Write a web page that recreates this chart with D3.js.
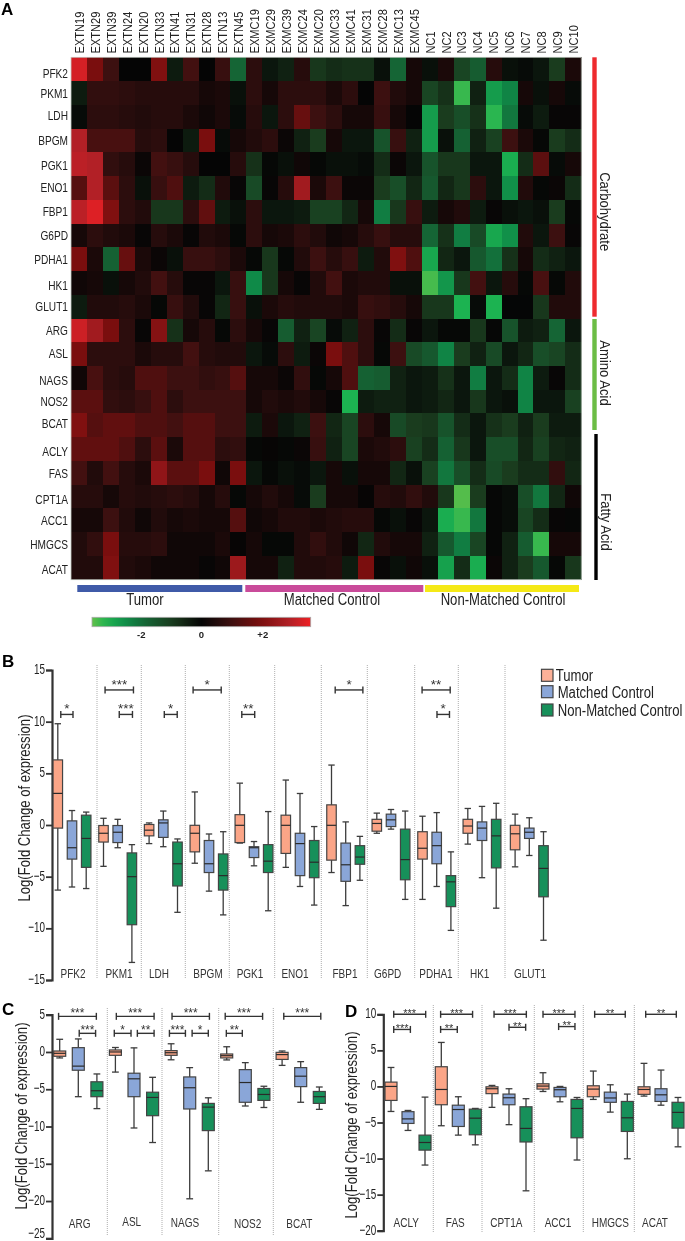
<!DOCTYPE html>
<html><head><meta charset="utf-8">
<script src="https://cdn.jsdelivr.net/npm/d3@7/dist/d3.min.js"></script>
<style>html,body{margin:0;padding:0;background:#fff}svg{display:block;filter:blur(.35px)}
text{font-family:"Liberation Sans",Arial,sans-serif;fill:#222}</style>
</head><body><div id="c"></div>
<script>
// ---------- DATA ----------
const samples=["EXTN19","EXTN29","EXTN39","EXTN24","EXTN20","EXTN33","EXTN41","EXTN31","EXTN28","EXTN13","EXTN45",
"EXMC19","EXMC29","EXMC39","EXMC24","EXMC20","EXMC33","EXMC41","EXMC31","EXMC28","EXMC13","EXMC45",
"NC1","NC2","NC3","NC4","NC5","NC6","NC7","NC8","NC9","NC10"];
const heatGenes=["PFK2","PKM1","LDH","BPGM","PGK1","ENO1","FBP1","G6PD","PDHA1","HK1","GLUT1","ARG","ASL","NAGS","NOS2","BCAT","ACLY","FAS","CPT1A","ACC1","HMGCS","ACAT"];
const heatValues=[
[3.4,2,1,0,0,2.1,-.4,1.1,0,.9,-1.9, .7,-.3,-.5,.6,-.9,-.7,-.8,-.8,-.2,-1.9,.3, -.2,.4,-1.2,-1.7,.6,-.2,-.1,-.3,-1,.4],
[-.4,.8,.8,.7,.6,.6,.6,.6,.3,.4,-.2, .7,.3,.7,.7,.7,.4,.7,0,1,.5,.3, -1.2,-.8,-3.4,-.5,-2.8,-2.4,.3,-.2,.3,-.1],
[-.1,.7,.7,.6,.5,.6,.6,.4,.2,.4,-.1, .6,-.3,.7,1.7,1,.7,.3,.3,.9,.3,0, -2.8,-1,-1.4,-.8,-3.3,-2.2,-.1,-.4,.05,.05],
[3,1.2,1.2,1.2,.6,.7,0,-.4,2,-.1,.3, .5,.7,.1,-.5,-1,.3,-.3,-.3,-1.5,.9,-.5, -2.8,-.2,-1.8,-.5,-1.1,1,.4,-.05,-1,-.7],
[3.1,3,.8,.6,.1,1.1,.9,.6,0,0,.6, -.8,-.05,-.2,.2,-.05,-.2,-.2,-.1,-.7,.1,-.3, -1.5,-.9,-.9,-.3,-.3,-3.1,-.7,1.5,-.1,.3],
[1.4,3,1.5,.7,-.2,.9,1.3,-.4,-.7,.5,.05, -1.3,.05,.6,2.7,.4,1,.1,.1,-1,-1.4,-.6, -1.6,-.6,-.9,.7,-.3,-2.6,.5,-.05,.1,-.7],
[3.1,3.5,2.1,.7,.5,-.9,-.9,.7,1.6,-.4,-.2, .7,-.3,-.3,-.4,-1.1,-1.1,-.6,.3,-2.3,-.9,.9, -.4,.3,.5,-.4,.05,-.2,-.3,-.2,-1,-.05],
[.3,.7,.5,.4,.05,.6,.4,.05,.5,.4,-.05, .7,.3,.4,.7,.5,.2,.3,.6,.9,.6,.6, -1.9,-.8,-2.3,-1.3,-3,-2.6,.5,-.3,1,.05],
[2,.4,-1.8,1.7,.4,.1,-.2,.9,.9,.7,.4, -.05,-.9,-.05,.5,1,.6,.9,-.4,.5,2.1,1.3, -3,-.6,-.3,-1.6,-2.1,-.8,.3,-.7,-.5,-.3],
[.2,.3,-.2,.3,.5,1.1,.6,.05,.05,-.3,.9, -2.5,-.9,.3,.05,.5,1.1,.4,.5,.5,-.2,-.2, -3.5,-2.7,-.9,1.1,-.3,.6,-.05,1.2,-.05,.5],
[-.4,.5,.5,.6,.4,-.05,.9,.5,.05,-.6,.9, -.2,.4,.6,.5,.5,.5,.4,.9,.8,.6,.3, -.9,-.9,-3.2,-.1,-3.2,-.02,-.02,-.9,.5,.5],
[3.3,2.7,2,.7,.05,2.2,-.8,.3,.6,-.05,.7, .3,.05,-1.7,-.5,-1.2,-.1,-.5,.7,.05,-.7,.05, -.3,-.05,-.05,-.9,-.03,-1.5,-.4,-.5,-1.9,-.3],
[2,.7,.7,.7,.4,.6,.6,1.1,.6,.5,.5, -.3,-.1,.7,-.4,.1,2,1.3,.7,-.05,1,-1.3, -1.6,-2.4,-1,-.5,-1.3,-.3,-.6,-1.4,-1.2,-.7],
[.2,1.2,.7,.6,1.3,1.3,1,1,.8,.9,1.4, .3,.3,.1,.8,-.05,.3,1.3,-1.8,-1.7,-.5,-.3, -.4,-.8,-.3,-2.3,-.3,-.7,-2.4,-.4,.05,-.7],
[1.5,1.5,.8,.7,.9,1.3,.7,1,1,1,1, .3,.5,.4,.5,.3,.05,-3.2,-.4,-.5,-.5,-.3, -.4,-.6,-.3,-.9,-.3,-.2,-2.4,-.3,-.3,-1.1],
[2.1,1.4,1.6,1.6,1.3,1.3,1.1,1.4,1.4,1,1, -.4,.4,-.3,-.5,1,-.6,-1.2,.7,.3,-1.3,-1, -.9,-1.5,-.7,-.3,-.8,-1,-.5,-1,-.4,-.4],
[1.6,1.6,1.6,1.3,.7,1.5,.4,1.4,1.4,.7,.8, -.05,.03,-.05,.1,.9,-.5,-1.2,.4,.5,.7,-1.1, -.7,-1.8,-.9,-.3,-1.4,-1.4,-.6,-1.1,-.6,-.5],
[1.1,.5,1.1,.6,.4,2.4,1.5,1.5,2,.2,2, -.3,-.05,-.2,-.1,-.3,.3,-.2,.3,.3,-.6,-.2, -1.1,-2.2,-1.4,-.7,-1.3,-1,-.7,-.7,.8,-.6],
[.6,.6,.3,.6,.5,.6,.7,.6,.3,.6,-.05, .3,.5,.3,-.1,-1,.3,.3,.03,.6,.5,.8, .5,-.9,-3.6,-1,-.03,-.15,-1.4,-2.2,-.6,.2],
[.3,.3,1,.5,.2,.5,.3,.4,.3,.3,1.4, .2,.3,.5,.5,.4,.5,.6,.6,-.05,-.2,.05, -.3,-3.1,-3.4,-2.2,-.03,-.15,-1.2,-.7,.05,-.03],
[.5,.8,2,.6,.6,.7,.2,.2,.2,.4,.03, .3,-.05,-.05,.5,.8,.5,.2,-.6,.5,.3,.3, -.5,-1.6,-2.3,-1.2,-.03,-.5,-1.7,-3.4,.3,.3],
[.5,.5,2.1,.5,.4,.2,.2,.2,.05,.2,2.6, .3,.3,-.5,.5,.5,.6,-.4,2,.05,-.2,.2, -.2,-2.9,-.7,-3.1,.1,-.5,-1,-1.6,-.05,-.9]
];
const sampleGroups=["Tumor","Matched Control","Non-Matched Control"];
const pathways=["Carbohydrate","Amino Acid","Fatty Acid"];
const colorTickLabels=["-2","0","+2"], colorTicks=[-2,0,2];
const seriesNames=["Tumor","Matched Control","Non-Matched Control"];

// each box: [low whisker, q1, median, q3, high whisker]
const genesB=["PFK2","PKM1","LDH","BPGM","PGK1","ENO1","FBP1","G6PD","PDHA1","HK1","GLUT1"];
const tumorB=[[-6.3,-.3,3.06,6.3,9.8],[-4,-1.65,-.8,-.05,.65],[-1.8,-1.05,-.5,.05,.2],[-3.7,-2.6,-.8,-.03,3.2],[-1.75,-1.7,-.03,1,4.05],[-4.1,-2.75,-.03,.95,4.35],[-4.6,-3.4,-.03,1.95,5.8],[-.8,-.6,.15,.55,1.15],[-7.2,-3.3,-2.25,-.65,.85],[-1.85,-.8,-.1,.55,1.6],[-4.05,-2.4,-.85,-.03,1.05]];
const matchedB=[[-6,-3.3,-2.2,.4,1.4],[-2.2,-1.7,-.7,-.05,.55],[-2.1,-1.2,.2,.5,1.35],[-6.4,-4.6,-3.75,-1.5,-.87],[-3.95,-3.15,-2.2,-2.1,-1.6],[-5.95,-4.9,-1.8,-.8,3.05],[-7.8,-5.45,-3.85,-1.75,.3],[-.4,-.15,.5,1.05,1.5],[-5.95,-3.75,-2,-.7,1.2],[-5.1,-1.5,-.3,.3,1.8],[-2.95,-1.3,-.7,-.3,.7]];
const nonMatchedB=[[-6.15,-4.1,-1.3,.95,1.25],[-13.3,-9.65,-5,-2.7,-1.9],[-8.45,-5.9,-3.75,-1.65,-1.35],[-8.7,-6.3,-4.9,-2.8,-.65],[-8.3,-4.6,-3.5,-1.9,1.3],[-7.75,-5.1,-3.6,-1.5,-.15],[-5.35,-3.8,-3.1,-2,-1.1],[-7.2,-5.3,-3.35,-.4,1.35],[-10.2,-7.9,-5.5,-4.9,-2.6],[-8.05,-4.15,-1.05,.55,2.1],[-11.15,-6.95,-4.2,-2,-.65]];
const yTicksB=[15,10,5,0,-5,-10,-15];
// brackets: gene index, from, to (in box slots, -1 tumor … +1 non-matched), level, stars
const bracketsB=[[0,-.79,.07,10.7,"*"],[1,-.89,1.11,13.07,"***"],[1,.11,1.04,10.7,"***"],[2,.07,.98,10.7,"*"],[3,-1.12,.86,13.07,"*"],[4,-.86,.05,10.7,"**"],[6,-.74,1.21,13.07,"*"],[8,-1.03,.95,13.07,"**"],[8,.02,.9,10.7,"*"]];

const genesC=["ARG","ASL","NAGS","NOS2","BCAT"];
const tumorC=[[-.8,-.58,-.18,.13,1.7],[-2.7,-.45,0,.27,.6],[-1.05,-.45,-.1,.18,1.1],[-1.07,-.8,-.5,-.27,.7],[-1.8,-1,-.35,-.05,.13]];
const matchedC=[[-6,-2.45,-1.9,.58,1.75],[-10.2,-6,-3.6,-2.85,.55],[-19.7,-7.65,-4.8,-3.35,-2.1],[-7.25,-6.75,-4.1,-2.37,-1.43],[-6.75,-4.65,-3.25,-2.1,-1.3]];
const nonMatchedC=[[-7.6,-6,-5.2,-4,-2.95],[-12.15,-8.55,-6.1,-5.4,-3.4],[-15.95,-10.55,-7.4,-6.9,-6.15],[-7.45,-6.5,-5.7,-4.9,-4.6],[-7.7,-6.9,-6,-5.3,-4.7]];
const yTicksC=[5,0,-5,-10,-15,-20,-25];
const bracketsC=[[0,-1.06,.97,4.78,"***"],[0,.05,.93,2.5,"***"],[1,-.95,1.08,4.78,"***"],[1,-1.06,-.16,2.5,"*"],[1,.18,1.08,2.5,"**"],[2,-.95,1.06,4.78,"***"],[2,-1.09,-.23,2.5,"***"],[2,.13,1,2.5,"*"],[3,-1.08,.93,4.78,"***"],[3,-1.02,-.16,2.5,"**"],[4,-.91,1.08,4.78,"***"]];

const genesD=["ACLY","FAS","CPT1A","ACC1","HMGCS","ACAT"];
const tumorD=[[-3.47,-1.94,0,.6,2.63],[-5.45,-2.54,-.42,2.73,6.1],[-2.9,-1,-.32,-.05,.14],[-.7,-.37,.05,.37,1.9],[-1.8,-1.43,-.37,.09,2.13],[-1.34,-1.1,-.42,-.05,3.2]];
const matchedD=[[-6.1,-5.13,-4.5,-3.5,-3.33],[-6.75,-5.55,-3.2,-2.6,-1.43],[-5.3,-2.54,-1.57,-1.06,-.32],[-2.13,-1.43,-.46,-.14,0],[-3.56,-2.2,-1.6,-.79,.23],[-2.6,-2.08,-1.16,-.32,2.27]];
const nonMatchedD=[[-10.9,-8.83,-7.77,-6.75,-1.48],[-8.1,-6.7,-4.4,-3.15,-3.05],[-14.47,-7.7,-5.82,-2.82,-1.7],[-10.2,-7.12,-3.05,-1.8,-1.53],[-10.03,-6.24,-4.35,-2.08,-1.06],[-8.37,-5.78,-3.6,-2.2,-1.53]];
const yTicksD=[10,5,0,-5,-10,-15,-20];
const bracketsD=[[0,-.84,1.04,10,"***"],[0,-.84,.14,7.9,"***"],[1,-1.04,.84,10,"***"],[1,-1.04,-.06,7.9,"**"],[2,-.88,1.02,10,"***"],[2,0,.98,8.2,"**"],[3,-1,.88,10,"***"],[3,-.08,.88,8.3,"**"],[4,-.92,.88,10,"**"],[5,-.9,.9,10,"**"]];

// ---------- LAYOUT & STYLE ----------
const W=685,H=1241;
const svg=d3.select("#c").append("svg").attr("width",W).attr("height",H);
const boxColors=["#fba587","#8aa6d8","#17905a"];
const heatColor=d3.scaleLinear()
 .domain([-3.7,-3.2,-2.5,-2,-1,0,1,2,3,3.7])
 .range(["#62c04a","#1cb351","#0f8a48","#146a38","#1a3c1e","#050505","#3c1010","#7a0e0e","#b22026","#ee2024"]);
// condense text horizontally (the reference uses a narrow face)
function narrow(sel,f){sel.each(function(){const n=this.getComputedTextLength();
 d3.select(this).attr("textLength",n*f).attr("lengthAdjust","spacingAndGlyphs");});return sel;}

// heatmap
const hx=d3.scaleBand().domain(samples).range([71,581.3]);
const hy=d3.scaleBand().domain(heatGenes).range([57.3,579.7]);
const cells=heatGenes.flatMap((g,i)=>samples.map((s,j)=>({g,s,v:heatValues[i][j]})));
svg.append("g").attr("shape-rendering","crispEdges").selectAll("rect").data(cells).join("rect")
 .attr("x",d=>hx(d.s)).attr("y",d=>hy(d.g)).attr("width",hx.bandwidth()+.4).attr("height",hy.bandwidth()+.4)
 .attr("fill",d=>heatColor(d.v));
svg.append("rect").attr("x",71).attr("y",57.3).attr("width",510.3).attr("height",522.4).attr("fill","none").attr("stroke","#c8cfc8").attr("stroke-width",.8);
narrow(svg.append("g").selectAll("text").data(samples).join("text")
 .attr("transform",d=>`translate(${hx(d)+hx.bandwidth()/2+4.8},53.5) rotate(-90)`)
 .attr("font-size",13.5).text(d=>d),.82);
const rowNudge=[3.5,.5,-2,-.5,1,-.5,-1,0,0,2,0,0,-.5,2.5,0,-2,2,0,3,0,0,1];
narrow(svg.append("g").selectAll("text").data(heatGenes).join("text")
 .attr("x",68).attr("y",(d,i)=>hy(d)+hy.bandwidth()/2+rowNudge[i]).attr("dy","0.36em")
 .attr("text-anchor","end").attr("font-size",13.5).text(d=>d),.75);

// group bars
const groupBars=[[77.3,242.3,"#3f5aa8",145],[245.3,423.3,"#c94b9a",332],[425,579,"#f5e916",503]];
svg.append("g").selectAll("rect").data(groupBars).join("rect")
 .attr("x",d=>d[0]).attr("y",585).attr("width",d=>d[1]-d[0]).attr("height",7).attr("fill",d=>d[2]);
narrow(svg.append("g").selectAll("text").data(sampleGroups).join("text")
 .attr("x",(d,i)=>groupBars[i][3]).attr("y",604.5).attr("text-anchor","middle").attr("font-size",16).text(d=>d),.82);

// pathway bars
const pathBars=[[592.3,596.7,57.3,316.7,"#ee2a2e",605.7,211.7],[592.3,596.7,319,430,"#6cbd45",605.7,373],[594.3,597.7,434,580,"#000",606.7,522]];
svg.append("g").selectAll("rect").data(pathBars).join("rect")
 .attr("x",d=>d[0]).attr("y",d=>d[2]).attr("width",d=>d[1]-d[0]).attr("height",d=>d[3]-d[2]).attr("fill",d=>d[4]);
narrow(svg.append("g").selectAll("text").data(pathways).join("text")
 .attr("transform",(d,i)=>`translate(${pathBars[i][5]},${pathBars[i][6]}) rotate(90)`)
 .attr("text-anchor","middle").attr("dy","0.35em").attr("font-size",15).text(d=>d),.87);

// colour bar
const cbx=d3.scaleLinear().domain([-3.6,3.6]).range([93,310]);
const grad=svg.append("defs").append("linearGradient").attr("id","cb");
d3.range(0,1.001,.05).forEach(t=>grad.append("stop").attr("offset",t).attr("stop-color",heatColor(-3.7+7.4*t)));
svg.append("rect").attr("x",92).attr("y",617.3).attr("width",218.7).attr("height",9.4).attr("fill","url(#cb)").attr("stroke","#aaa").attr("stroke-width",.8);
svg.append("g").selectAll("text").data(colorTicks).join("text")
 .attr("x",d=>cbx(d)+(d<0?0:d>0?1:0)).attr("y",637.5).attr("text-anchor","middle")
 .attr("font-weight","bold").attr("font-size",9.5).text((d,i)=>colorTickLabels[i]);

// legend
const legendRows=[[669.3,675,555.7],[685.7,692,557.7],[704,710,557.7]];
svg.append("g").selectAll("rect").data(seriesNames).join("rect")
 .attr("x",541.5).attr("y",(d,i)=>legendRows[i][0]).attr("width",11.5).attr("height",12)
 .attr("fill",(d,i)=>i==0?"#fcb198":boxColors[i]).attr("stroke","#444").attr("stroke-width",1.2);
svg.append("g").selectAll("text").data(seriesNames).join("text")
 .attr("transform",(d,i)=>`translate(${legendRows[i][2]},${legendRows[i][1]}) scale(.82,1)`).attr("dy","0.36em")
 .attr("font-size",16).text(d=>d);

// panel letters
[["A",1,15],["B",2,667],["C",2,1015],["D",345,1017]].forEach(l=>svg.append("text")
 .attr("x",l[1]).attr("y",l[2]).attr("font-weight","bold").attr("font-size",17).style("fill","#000").text(l[0]));

// box panels
function panel(o){
 const y=d3.scaleLinear().domain(o.domain).range(o.range);
 const g=svg.append("g");
 const slot=d3.scalePoint().domain([-1,0,1]).range([-o.off,o.off]);
 g.append("g").selectAll("line").data(o.seps).join("line")
  .attr("x1",d=>d).attr("x2",d=>d).attr("y1",o.sepY[0]).attr("y2",o.sepY[1])
  .attr("stroke","#999").attr("stroke-width",.8).attr("stroke-dasharray","1 1");
 const ax=g.append("g").attr("transform",`translate(${o.axisX},0)`)
  .call(d3.axisLeft(y).tickValues(o.ticks).tickSize(6).tickPadding(1));
 ax.selectAll("line").attr("stroke","#333").attr("stroke-width",1.8);
 ax.select("path").attr("stroke","#333").attr("stroke-width",2.2);
 // labels sit a little above their ticks; the one at the page foot is kept inside the page
 narrow(ax.selectAll("text").attr("font-family",null).attr("font-size",15)
  .attr("y",d=>y(d)>H-8?-5.4:-1.3),.66);
 g.append("text").attr("transform",`translate(${o.titleX},${o.titleY}) rotate(-90)`).attr("text-anchor","middle")
  .attr("dy","0.35em").attr("font-size",17).attr("textLength",187).attr("lengthAdjust","spacingAndGlyphs")
  .text("Log(Fold Change of expression)");
 narrow(g.append("g").selectAll("text").data(o.genes).join("text")
  .attr("x",(d,i)=>o.labelX[i]).attr("y",(d,i)=>o.labelY[i]).attr("dy","0.36em").attr("text-anchor","middle")
  .attr("font-size",12.5).style("fill","#333").text(d=>d),.8);
 o.series.forEach((s,k)=>{
  const b=g.append("g").selectAll("g").data(s).join("g")
   .attr("transform",(d,i)=>`translate(${o.mids[i]+slot(k-1)},0)`);
  b.append("line").attr("y1",d=>y(d[0])).attr("y2",d=>y(d[4])).attr("stroke","#3c3c3c").attr("stroke-width",1.3);
  [0,4].forEach(q=>b.append("line").attr("x1",-o.cap).attr("x2",o.cap).attr("y1",d=>y(d[q])).attr("y2",d=>y(d[q])).attr("stroke","#3c3c3c").attr("stroke-width",1.3));
  b.append("rect").attr("x",-o.bw/2).attr("width",o.bw).attr("y",d=>y(d[3])).attr("height",d=>y(d[1])-y(d[3]))
   .attr("fill",boxColors[k]).attr("stroke","#444").attr("stroke-width",1.2);
  b.append("line").attr("x1",-o.bw/2).attr("x2",o.bw/2).attr("y1",d=>y(d[2])).attr("y2",d=>y(d[2])).attr("stroke","#2a2a2a").attr("stroke-width",1.2);
 });
 const br=g.append("g").selectAll("g").data(o.brackets).join("g");
 const bx=(d,v)=>o.mids[d[0]]+v*o.off;
 br.append("line").attr("x1",d=>bx(d,d[1])).attr("x2",d=>bx(d,d[2])).attr("y1",d=>y(d[3])).attr("y2",d=>y(d[3])).attr("stroke","#333").attr("stroke-width",1.4);
 [1,2].forEach(e=>br.append("line").attr("x1",d=>bx(d,d[e])).attr("x2",d=>bx(d,d[e])).attr("y1",d=>y(d[3])-3.5).attr("y2",d=>y(d[3])+3.5).attr("stroke","#333").attr("stroke-width",1.4));
 br.append("text").attr("x",d=>(bx(d,d[1])+bx(d,d[2]))/2).attr("y",d=>y(d[3])+o.starDy).attr("text-anchor","middle")
  .attr("font-size",o.starFont).style("fill","#333").text(d=>d[4]);
}
panel({genes:genesB,series:[tumorB,matchedB,nonMatchedB],domain:[15,-15],range:[670,980],ticks:yTicksB,brackets:bracketsB,
 axisX:52,titleX:24,titleY:808,mids:[72,117.7,163.3,209,254,300,345.7,391,436.7,482,529.3],off:14.2,bw:9.5,cap:3.2,starFont:13.5,starDy:-1,
 seps:[97,141.3,185.3,229.3,274.7,321.3,367.3,414.7,458.3,505],sepY:[665,978],
 labelX:[73,119,159,208,250,295,345,387.7,436,479.7,530],labelY:d3.range(11).map(()=>973)});
panel({genes:genesC,series:[tumorC,matchedC,nonMatchedC],domain:[5,-25],range:[1014.7,1238.3],ticks:yTicksC,brackets:bracketsC,
 axisX:52,titleX:20.7,titleY:1116,mids:[78.3,134,189.7,245.3,300.7],off:18.6,bw:12,cap:3.4,starFont:12,starDy:1,
 seps:[107.3,162,218.7,273.3],sepY:[1008,1235],
 labelX:[79.7,131.7,185,247.7,299.3],labelY:[1223,1221,1222,1223,1223]});
panel({genes:genesD,series:[tumorD,matchedD,nonMatchedD],domain:[10,-20],range:[1014.3,1230.7],ticks:yTicksD,brackets:bracketsD,
 axisX:383.3,titleX:351,titleY:1125,mids:[408,458.3,509,560,610.3,661],off:17,bw:12,cap:3.4,starFont:11,starDy:2.5,
 seps:[433.3,482,534.3,583.3,634.3],sepY:[1005,1232],
 labelX:[406.3,455.3,506.3,558,610.3,655],labelY:[1222,1222,1222,1222,1222,1222]});
</script></body></html>
